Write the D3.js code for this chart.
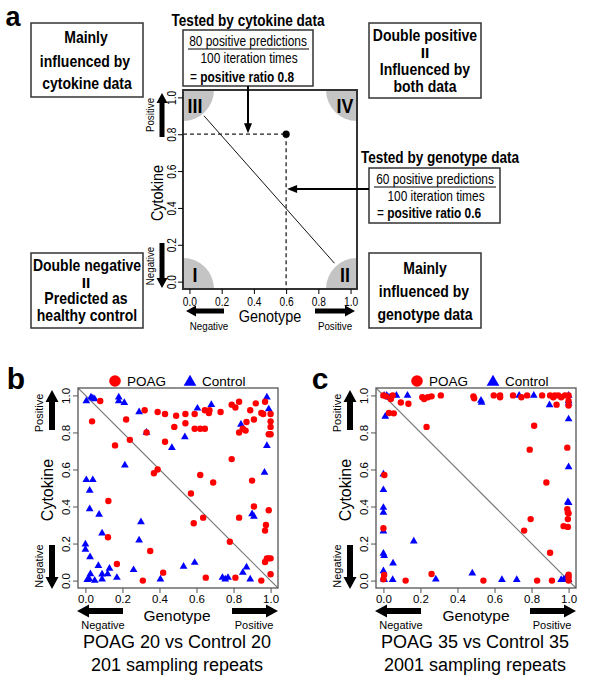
<!DOCTYPE html>
<html><head><meta charset="utf-8">
<script src="https://cdnjs.cloudflare.com/ajax/libs/d3/7.8.5/d3.min.js"></script>
<style>
body{margin:0;background:#fff}
svg{display:block}
.nar,.ar{font-family:"Liberation Sans",Arial,Helvetica,sans-serif}
</style></head>
<body>
<svg id="c" width="600" height="685"></svg>
<script>
// ---------- DATA ----------
const ticks = [0, 0.2, 0.4, 0.6, 0.8, 1.0];
const exampleGenotype = 0.6;   // positive ratio tested by genotype data
const exampleCytokine = 0.8;   // positive ratio tested by cytokine data
const diagA = [[0.09, 0.9], [0.9, 0.1]];
const quadrantLabels = ["I", "II", "III", "IV"];
const quadrantCorners = [[0, 0], [1, 0], [0, 1], [1, 1]];

const poagB = [[0.08,0.97],[0.036,0.86],[0.22,0.87],[0.16,0.73],[0.24,0.76],[0.32,0.92],[0.33,0.80],
 [0.39,0.91],[0.43,0.90],[0.43,0.75],[0.49,0.89],[0.48,0.83],[0.54,0.90],[0.54,0.85],[0.59,0.90],
 [0.59,0.82],[0.62,0.82],[0.645,0.82],[0.645,0.92],[0.667,0.905],[0.67,0.92],[0.73,0.91],[0.79,0.95],
 [0.81,0.935],[0.83,0.966],[0.83,0.80],[0.85,0.82],[0.865,0.81],[0.87,0.856],[0.89,0.92],[0.92,0.957],
 [0.91,0.87],[0.95,0.905],[0.96,0.90],[0.97,0.966],[1.0,0.90],[1.0,0.86],[1.0,0.83],[0.99,0.79],[1.0,0.79],
 [0.37,0.58],[0.39,0.60],[0.79,0.656],[0.62,0.57],[0.69,0.53],[0.57,0.47],[0.90,0.54],[0.91,0.40],
 [0.99,0.38],[0.585,0.31],[0.636,0.34],[0.83,0.34],[0.975,0.30],[0.97,0.27],[0.124,0.43],[0.122,0.234],
 [0.35,0.16],[0.17,0.09],[0.42,0.043],[0.31,0.0],[0.65,0.016],[0.78,0.21],[0.81,0.016],[0.95,0.0],
 [0.97,0.10],[0.98,0.12],[0.99,0.12],[1.0,0.12],[1.0,0.034]];
const controlB = [[0.005,0.97],[0.03,0.99],[0.04,0.985],[0.05,0.98],[0.18,0.99],[0.18,0.97],[0.21,0.96],
 [0.29,0.91],[0.33,0.80],[0.605,0.93],[0.68,0.95],[0.537,0.776],[0.467,0.717],[0.84,0.843],[0.98,0.99],
 [0.99,0.926],[0.98,0.728],[0.967,0.584],[0.213,0.623],[0.005,0.544],[0.04,0.544],[0.023,0.486],
 [0.023,0.387],[0.074,0.357],[0.09,0.256],[0.30,0.317],[0.29,0.218],[0.0,0.196],[0.0,0.168],[0.025,0.128],
 [0.07,0.08],[0.01,0.004],[0.02,0.01],[0.027,0.036],[0.05,0.0],[0.09,0.034],[0.09,0.007],[0.12,0.036],
 [0.13,0.065],[0.17,0.016],[0.26,0.058],[0.405,0.007],[0.53,0.076],[0.59,0.097],[0.74,0.016],[0.755,0.007],
 [0.77,0.016],[0.85,0.043],[0.87,0.072],[0.89,0.007],[0.90,0.36],[0.91,0.346]];
const poagC = [[0.0,1.0],[0.014,0.995],[0.04,0.98],[0.05,1.0],[0.03,0.905],[0.056,0.903],[0.094,0.962],
 [0.135,0.955],[0.21,0.99],[0.22,0.98],[0.24,0.99],[0.26,0.995],[0.31,1.0],[0.233,0.83],[0.486,0.995],
 [0.49,0.985],[0.596,1.0],[0.63,1.0],[0.63,0.99],[0.70,1.0],[0.745,0.99],[0.776,1.0],[0.857,1.0],[0.90,1.0],
 [0.917,0.99],[0.925,1.0],[0.944,1.0],[0.96,0.99],[0.98,1.0],[0.935,0.95],[1.0,1.0],[1.0,0.97],[1.0,0.945],
 [0.814,0.836],[0.79,0.707],[0.993,0.718],[0.88,0.53],[0.795,0.332],[0.76,0.27],[0.993,0.386],[0.996,0.368],
 [1.0,0.363],[0.996,0.332],[0.996,0.29],[0.973,0.294],[0.005,0.57],[0.0,0.283],[0.004,0.03],[0.0,0.007],
 [0.12,0.0],[0.26,0.036],[0.54,0.0],[0.83,0.0],[0.91,0.0],[0.90,0.15],[1.0,0.032],[1.0,0.018],[1.0,0.0]];
const controlC = [[0.004,1.0],[0.018,1.0],[0.03,0.99],[0.07,1.0],[0.13,1.0],[0.527,0.973],[0.53,0.962],
 [0.733,1.0],[0.812,1.0],[0.897,0.948],[1.0,1.0],[1.0,0.97],[1.0,0.957],[1.0,0.872],[1.0,0.614],[0.996,0.424],
 [1.0,0.42],[0.01,0.886],[0.0,0.574],[0.0,0.49],[0.0,0.394],[0.0,0.368],[0.0,0.267],[0.0,0.146],[0.004,0.134],
 [0.052,0.094],[0.0,0.052],[0.0,0.014],[0.004,0.005],[0.05,0.005],[0.164,0.213],[0.283,0.007],[0.48,0.04],
 [0.64,0.005],[0.72,0.005],[0.96,0.005],[0.973,0.005],[0.984,0.013],[0.993,0.005],[1.0,0.005]];

// ---------- HELPERS ----------
const svg = d3.select("#c");
const NS = 0.85; // horizontal condensation for the narrow face of panel a
function thickArrow(g, x1, y1, x2, y2, sw, hw, hl, col) {
  const dx = x2 - x1, dy = y2 - y1, L = Math.hypot(dx, dy), ux = dx / L, uy = dy / L, px = -uy, py = ux;
  const bx = x2 - ux * hl, by = y2 - uy * hl;
  const pts = [[x1 + px*sw/2, y1 + py*sw/2],[bx + px*sw/2, by + py*sw/2],[bx + px*hw/2, by + py*hw/2],[x2, y2],
    [bx - px*hw/2, by - py*hw/2],[bx - px*sw/2, by - py*sw/2],[x1 - px*sw/2, y1 - py*sw/2]];
  g.append("path").attr("d", "M" + pts.map(p => p.join(",")).join("L") + "Z").attr("fill", col || "#000");
}
function txt(g, x, y, s, size, cls, weight, anchor) {
  const t = g.append("text").attr("class", cls).attr("dy", "0.35em")
    .attr("font-size", size).attr("font-weight", weight || "normal").attr("text-anchor", anchor || "middle").text(s);
  if (cls === "nar") t.attr("transform", `translate(${x},${y}) scale(${NS},1)`);
  else t.attr("x", x).attr("y", y);
  return t;
}
function rtxt(g, x, y, s, size, cls, weight) {
  return g.append("text").attr("class", cls)
    .attr("transform", `translate(${x},${y}) rotate(-90)` + (cls === "nar" ? ` scale(${NS},1)` : ""))
    .attr("dy", "0.35em").attr("font-size", size).attr("font-weight", weight || "normal")
    .attr("text-anchor", "middle").text(s);
}

// ---------- PANEL A ----------
(function () {
  const g = svg.append("g");
  const x = d3.scaleLinear().domain([-0.04, 1.04]).range([183, 357]);
  const y = d3.scaleLinear().domain([-0.04, 1.04]).range([289, 90]);
  txt(g, 13, 17, "a", 27, "ar", "bold");
  const cp = g.append("clipPath").attr("id", "clipA");
  cp.append("rect").attr("x", 183).attr("y", 90).attr("width", 174).attr("height", 199);
  const pg = g.append("g").attr("clip-path", "url(#clipA)");
  const cx = d => d === 0 ? 183 : 357, cy = d => d === 0 ? 289 : 90;
  pg.selectAll("circle.q").data(quadrantCorners).join("circle").attr("class", "q")
    .attr("cx", d => cx(d[0])).attr("cy", d => cy(d[1])).attr("r", 31).attr("fill", "#c4c4c4");
  const qpos = [[195, 275], [345, 275], [195, 106], [345, 106]];
  quadrantLabels.forEach((q, i) => txt(g, qpos[i][0], qpos[i][1], q, 21, "nar", "bold"));
  g.append("line").attr("x1", x(diagA[0][0])).attr("y1", y(diagA[0][1])).attr("x2", x(diagA[1][0])).attr("y2", y(diagA[1][1]))
    .attr("stroke", "#111").attr("stroke-width", 1);
  g.append("line").attr("x1", 183).attr("x2", x(exampleGenotype)).attr("y1", y(exampleCytokine)).attr("y2", y(exampleCytokine))
    .attr("stroke", "#222").attr("stroke-width", 1.3).attr("stroke-dasharray", "4,3");
  g.append("line").attr("x1", x(exampleGenotype)).attr("x2", x(exampleGenotype)).attr("y1", y(exampleCytokine)).attr("y2", 289)
    .attr("stroke", "#222").attr("stroke-width", 1.3).attr("stroke-dasharray", "4,3");
  g.append("circle").attr("cx", x(exampleGenotype)).attr("cy", y(exampleCytokine)).attr("r", 3.6).attr("fill", "#000");
  g.append("rect").attr("x", 183).attr("y", 90).attr("width", 174).attr("height", 199)
    .attr("fill", "none").attr("stroke", "#333").attr("stroke-width", 2);
  const ax = g.append("g").attr("transform", "translate(0,289)")
    .call(d3.axisBottom(x).tickValues(ticks).tickFormat(d3.format(".1f")).tickSize(5).tickPadding(3));
  ax.select(".domain").remove();
  ax.selectAll("text").attr("class", "nar").attr("font-size", 12).attr("fill", "#000").attr("transform", `scale(${NS},1)`);
  const ay = g.append("g").attr("transform", "translate(183,0)")
    .call(d3.axisLeft(y).tickValues(ticks).tickFormat(d3.format(".1f")).tickSize(5));
  ay.select(".domain").remove();
  ay.selectAll("text").attr("class", "nar").attr("font-size", 12).attr("fill", "#000")
    .attr("x", 0).attr("y", -7).attr("dy", 0).attr("text-anchor", "middle").attr("transform", `rotate(-90) scale(${NS},1)`);
  txt(g, 270, 316, "Genotype", 17, "nar");
  rtxt(g, 157, 193, "Cytokine", 17, "nar");
  thickArrow(g, 224, 311, 186, 311, 5, 11, 10);
  thickArrow(g, 315, 311, 355, 311, 5, 11, 10);
  txt(g, 209, 326, "Negative", 11.5, "nar");
  txt(g, 335, 326, "Positive", 11.5, "nar");
  thickArrow(g, 162, 137, 162, 93, 5, 11, 10);
  thickArrow(g, 162, 243, 162, 288, 5, 11, 10);
  rtxt(g, 150, 115, "Positive", 11.5, "nar");
  rtxt(g, 150, 266, "Negative", 11.5, "nar");
  const box = (x0, y0, w, h) => g.append("rect").attr("x", x0).attr("y", y0).attr("width", w).attr("height", h)
    .attr("fill", "#fff").attr("stroke", "#333").attr("stroke-width", 1.5);
  const FS = 16.5;
  box(31, 23, 112, 74);
  txt(g, 86, 37, "Mainly", FS, "nar", "bold");
  txt(g, 85, 61, "influenced by", FS, "nar", "bold");
  txt(g, 87, 83, "cytokine data", FS, "nar", "bold");
  box(369, 23, 112, 75);
  txt(g, 425, 35, "Double positive", FS, "nar", "bold");
  txt(g, 425, 53, "II", 15.5, "ar", "bold");
  txt(g, 425, 69, "Influenced by", FS, "nar", "bold");
  txt(g, 425, 86, "both data", FS, "nar", "bold");
  box(31, 253, 112, 75);
  txt(g, 87, 265, "Double negative", FS, "nar", "bold");
  txt(g, 86, 283, "II", 15.5, "ar", "bold");
  txt(g, 86, 298, "Predicted as", FS, "nar", "bold");
  txt(g, 87, 315.5, "healthy control", FS, "nar", "bold");
  box(369, 253, 112, 75);
  txt(g, 425, 268, "Mainly", FS, "nar", "bold");
  txt(g, 424, 291, "influenced by", FS, "nar", "bold");
  txt(g, 425, 314, "genotype data", FS, "nar", "bold");
  txt(g, 248, 20, "Tested by cytokine data", 16, "nar", "bold");
  box(183, 30, 130, 56);
  txt(g, 248, 41, "80 positive predictions", 14, "nar");
  g.append("line").attr("x1", 188).attr("x2", 309).attr("y1", 49).attr("y2", 49).attr("stroke", "#000").attr("stroke-width", 1);
  txt(g, 249, 58, "100 iteration times", 14, "nar");
  const t1 = g.append("text").attr("class", "nar").attr("transform", `translate(190,77) scale(${NS},1)`)
    .attr("dy", "0.35em").attr("font-size", 14);
  t1.append("tspan").text("= ");
  t1.append("tspan").attr("font-weight", "bold").text("positive ratio " + exampleCytokine.toFixed(1));
  txt(g, 440, 157, "Tested by genotype data", 16, "nar", "bold");
  box(369, 168, 131, 55);
  txt(g, 435, 179, "60 positive predictions", 14, "nar");
  g.append("line").attr("x1", 374).attr("x2", 496).attr("y1", 187).attr("y2", 187).attr("stroke", "#000").attr("stroke-width", 1);
  txt(g, 436, 196, "100 iteration times", 14, "nar");
  const t2 = g.append("text").attr("class", "nar").attr("transform", `translate(377,213) scale(${NS},1)`)
    .attr("dy", "0.35em").attr("font-size", 14);
  t2.append("tspan").text("= ");
  t2.append("tspan").attr("font-weight", "bold").text("positive ratio " + exampleGenotype.toFixed(1));
  thickArrow(g, 248, 86, 248, y(exampleCytokine) - 1, 2, 8, 10);
  thickArrow(g, 369, 189, x(exampleGenotype) + 1, 189, 2, 8, 10);
})();

// ---------- PANELS B & C ----------
function scatterPanel(cfg) {
  const g = svg.append("g");
  const x = d3.scaleLinear().domain([-0.04, 1.04]).range([cfg.x0, cfg.x1]);
  const y = d3.scaleLinear().domain([-0.04, 1.04]).range([588, 388]);
  txt(g, cfg.lx, 378, cfg.letter, 30, "ar", "bold");
  g.append("circle").attr("cx", cfg.legC).attr("cy", 381).attr("r", 5.8).attr("fill", "#ff0000");
  txt(g, cfg.legC + 12, 381, "POAG", 13.5, "ar", "normal", "start");
  g.append("path").attr("d", d3.symbol(d3.symbolTriangle, 70)()).attr("transform", `translate(${cfg.legT},382)`).attr("fill", "#0000ff");
  txt(g, cfg.legT + 12, 381, "Control", 13.5, "ar", "normal", "start");
  const cid = "clip" + cfg.letter;
  g.append("clipPath").attr("id", cid).append("rect").attr("x", cfg.x0).attr("y", 388).attr("width", cfg.x1 - cfg.x0).attr("height", 200);
  g.append("line").attr("clip-path", `url(#${cid})`).attr("x1", x(-0.04)).attr("y1", y(1.04)).attr("x2", x(1.04)).attr("y2", y(-0.04))
    .attr("stroke", "#777").attr("stroke-width", 1.2);
  g.append("g").selectAll("path").data(cfg.control).join("path")
    .attr("d", d3.symbol(d3.symbolTriangle, 26)()).attr("transform", d => `translate(${x(d[0])},${y(d[1])})`).attr("fill", "#0000ff");
  g.append("g").selectAll("circle").data(cfg.poag).join("circle")
    .attr("cx", d => x(d[0])).attr("cy", d => y(d[1])).attr("r", 3.2).attr("fill", "#ff0000");
  g.append("rect").attr("x", cfg.x0).attr("y", 388).attr("width", cfg.x1 - cfg.x0).attr("height", 200)
    .attr("fill", "none").attr("stroke", "#555").attr("stroke-width", 1.3);
  const ax = g.append("g").attr("transform", "translate(0,588)")
    .call(d3.axisBottom(x).tickValues(ticks).tickFormat(d3.format(".1f")).tickSize(5).tickPadding(2));
  ax.select(".domain").remove();
  ax.selectAll("text").attr("class", "ar").attr("font-size", 11.5).attr("fill", "#000");
  ax.selectAll("line").attr("stroke", "#555");
  const ay = g.append("g").attr("transform", `translate(${cfg.x0},0)`)
    .call(d3.axisLeft(y).tickValues(ticks).tickFormat(d3.format(".1f")).tickSize(5));
  ay.select(".domain").remove();
  ay.selectAll("line").attr("stroke", "#555");
  ay.selectAll("text").attr("class", "ar").attr("font-size", 11.5).attr("fill", "#000")
    .attr("x", 0).attr("y", -8).attr("dy", 0).attr("text-anchor", "middle").attr("transform", "rotate(-90)");
  txt(g, cfg.gx, 616, "Genotype", 15.5, "ar");
  rtxt(g, cfg.x0 - 31, 490, "Cytokine", 16, "ar");
  thickArrow(g, cfg.x0 + 45, 611, cfg.x0 - 1, 611, 6, 13, 12);
  thickArrow(g, cfg.x1 - 46, 611, cfg.x1, 611, 6, 13, 12);
  txt(g, cfg.x0 + 25, 625, "Negative", 11, "ar");
  txt(g, cfg.x1 - 24, 625, "Positive", 11, "ar");
  thickArrow(g, cfg.x0 - 26, 430, cfg.x0 - 26, 390, 6, 13, 12);
  thickArrow(g, cfg.x0 - 26, 545, cfg.x0 - 26, 589, 6, 13, 12);
  rtxt(g, cfg.x0 - 39, 413, "Positive", 11, "ar");
  rtxt(g, cfg.x0 - 39, 566, "Negative", 11, "ar");
  txt(g, cfg.fx, 642, cfg.foot1, 18, "ar");
  txt(g, cfg.fx, 665, cfg.foot2, 18, "ar");
}
scatterPanel({letter: "b", lx: 16, x0: 78, x1: 278, legC: 115, legT: 190, gx: 177, fx: 177,
  poag: poagB, control: controlB, foot1: "POAG 20 vs Control 20", foot2: "201 sampling repeats"});
scatterPanel({letter: "c", lx: 320, x0: 376, x1: 576, legC: 417, legT: 493, gx: 476, fx: 475,
  poag: poagC, control: controlC, foot1: "POAG 35 vs Control 35", foot2: "2001 sampling repeats"});
</script>
</body></html>
